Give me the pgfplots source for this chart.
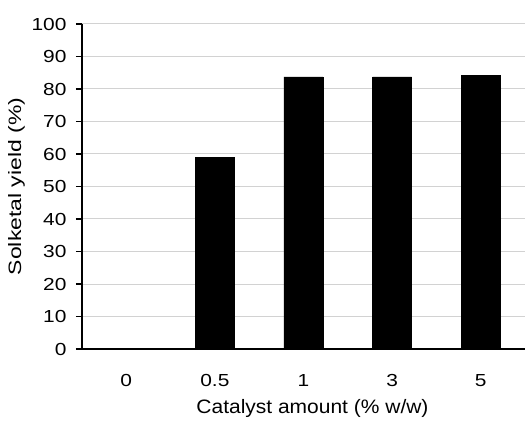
\documentclass[border=0pt]{standalone}
\usepackage{fontspec}
\setmainfont{Liberation Sans}
\newfontfamily\tickfont[FakeStretch=1.2]{Liberation Sans}
\newfontfamily\ylabfont[FakeStretch=1.28]{Liberation Sans}
\newfontfamily\xlabfont[FakeStretch=1.08]{Liberation Sans}
\usepackage{pgfplots}
\pgfplotsset{compat=1.18}
\begin{document}
\begin{tikzpicture}
\begin{axis}[
  scale only axis,
  width=443bp, height=325bp,
  ymin=0, ymax=100, ytick={0,10,...,100},
  xmin=-0.5, xmax=4.5,
  xtick=data, xticklabels={0,0.5,1,3,5},
  axis x line*=bottom, axis y line*=left,
  axis line style={line width=2bp, black, -},
  ymajorgrids, grid style={gray!35, line width=1bp},
  major x tick style={draw=none},
  y tick style={black, line width=1.5bp},
  tick align=outside, major tick length=6bp,
  yticklabel style={font=\tickfont\fontsize{17.5}{20}\selectfont, xshift=-6bp},
  xticklabel style={font=\tickfont\fontsize{17.5}{20}\selectfont, yshift=-16bp},
  /pgf/number format/assume math mode=true,
  ylabel={Solketal yield (\%)},
  xlabel={Catalyst amount (\% w/w)},
  ylabel style={font=\ylabfont\fontsize{18}{20}\selectfont, yshift=0bp},
  xlabel style={font=\xlabfont\fontsize{19.5}{22}\selectfont, yshift=-6bp, xshift=9bp},
  ybar, bar width=39bp,
]
\addplot[fill=black, draw=black] coordinates {(0,0) (1,59) (2,83.7) (3,83.7) (4,84.1)};
\end{axis}
\pgfresetboundingbox
\path[use as bounding box] ([shift={(-82bp,-75bp)}]current axis.south west) rectangle ([shift={(1bp,24bp)}]current axis.north east);
\end{tikzpicture}
\end{document}
